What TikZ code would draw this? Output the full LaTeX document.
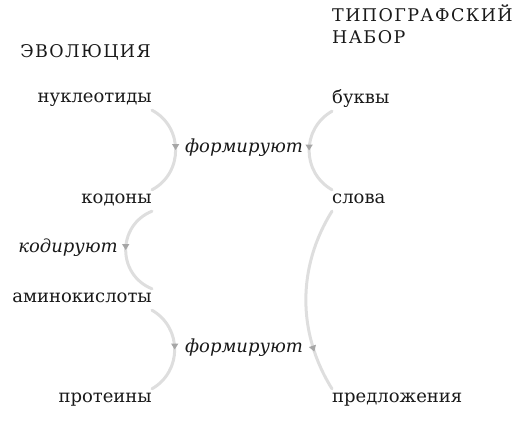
\documentclass[tikz,border=0pt]{standalone}
\usepackage{fontspec}
\setmainfont{DejaVu Serif}
\usetikzlibrary{arrows.meta,decorations.markings}

\begin{document}
\begin{tikzpicture}[x=1pt,y=-1pt,
    word/.style={inner sep=0pt, text height=13pt, text depth=8pt,
      font=\fontsize{18}{22}\selectfont, text=black!90},
    head/.style={inner sep=0pt, align=left, text=black!90,
      font=\fontsize{17.5}{22}\selectfont\addfontfeatures{LetterSpace=8}},
    verb/.style={inner sep=0pt, font=\fontsize{18}{22}\selectfont\itshape, text=black!90},
    link/.style={draw=black!13, line width=3pt, line cap=round, postaction={decorate},
      decoration={markings, mark=at position #1 with {\arrow[black!35]{Triangle[width=7pt,length=6pt]}}}},
    link/.default=0.5]
    	\useasboundingbox (0,0) rectangle (530,432);

    		% headings
    		\node [head, anchor=base east] (Evolution) at (151,57) {ЭВОЛЮЦИЯ};
    		\node [head, anchor=base west] (Typesetting) at (332,43) {ТИПОГРАФСКИЙ\\НАБОР};

    		% evolution column
    		\node [word, anchor=base east] (Nucleotides) at (152,102) {нуклеотиды};
    		\node [word, anchor=base east] (Codons) at (152,203) {кодоны};
    		\node [word, anchor=base east] (Aminoacids) at (152,302) {аминокислоты};
    		\node [word, anchor=base east] (Proteins) at (152,402) {протеины};

    		% typesetting column
    		\node [word, anchor=base west] (Letters) at (332,103) {буквы};
    		\node [word, anchor=base west] (Words) at (332,203) {слова};
    		\node [word, anchor=base west] (Sentences) at (332,402) {предложения};

    		% verbs
    		\node [verb, anchor=base] (FormUpper) at (244,152) {формируют};
    		\node [verb, anchor=base] (Encode) at (68,252) {кодируют};
    		\node [verb, anchor=base] (FormLower) at (244,352) {формируют};

    		\draw [link] (Nucleotides.south east) to[bend left=62, looseness=1.15] (Codons.north east);% first arc
    		\draw [link] (Codons.south east) to[bend right=68, looseness=1.25] (Aminoacids.north east);
    		\draw [link] (Aminoacids.south east) to[bend left=60, looseness=1.14] (Proteins.north east);
    		\draw [link] (Letters.south west) to[bend right=60, looseness=1.15] (Words.north west);
    		\draw [link=0.78] (Words.south west) to[bend right=32, looseness=.95] (Sentences.north west);% long arc
	\end{tikzpicture}
\end{document}
